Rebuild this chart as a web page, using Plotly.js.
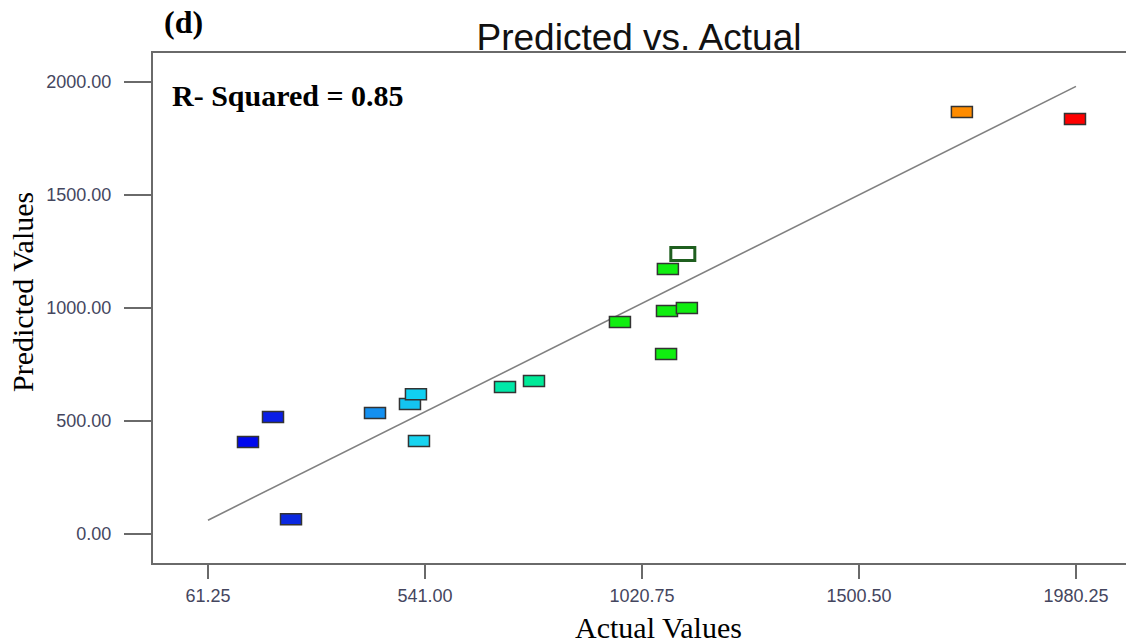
<!DOCTYPE html>
<html>
<head>
<meta charset="utf-8">
<script src="https://cdn.plot.ly/plotly-3.0.1.min.js"></script>
<style>
html,body{margin:0;padding:0;background:#fff;overflow:hidden;}
#chart{width:1126px;height:643px;}
</style>
</head>
<body>
<div id="chart"></div>
<script>
// Data
const actualValues = [149.7, 205, 244.8, 430.5, 507.8, 521, 527.7, 717.9, 782, 972, 1074, 1076, 1078, 1120, 1111, 1728, 1978];
const predictedValues = [407, 518, 66, 535, 575, 619, 412, 650, 677, 938, 796, 987, 1173, 1000, 1239, 1867, 1836];
const pointColors = ["#0008ee", "#0a1ee6", "#0a28e0", "#1490f0", "#14c4f0", "#10d0f2", "#18d4f0",
                     "#00e8a8", "#00ea98", "#10ee10", "#10ee10", "#10ee10", "#10ee10", "#10ee10",
                     "#ffffff", "#ff8c00", "#ff0000"];
const pointBorders = ["#333","#333","#333","#333","#333","#333","#333","#333","#333","#333","#333","#333","#333","#333","#1f5f1f","#333","#333"];
const fitLineX = [61.25, 1980.25];
const fitLineY = [61.25, 1980.25];
const xTickVals = [61.25, 541.00, 1020.75, 1500.50, 1980.25];
const yTickVals = [0, 500, 1000, 1500, 2000];
const rSquared = 0.85;

const shapes = actualValues.map((x, i) => {
  const hl = pointBorders[i] !== "#333";
  const hw = hl ? 12 : 10.5, hh = hl ? 6.5 : 5.5;
  return {
    type: "rect", xref: "x", yref: "y",
    xsizemode: "pixel", ysizemode: "pixel",
    xanchor: x, yanchor: predictedValues[i],
    x0: -hw, x1: hw, y0: -hh, y1: hh,
    fillcolor: pointColors[i],
    line: {color: pointBorders[i], width: hl ? 3 : 1.5},
    layer: "above"
  };
});

const traces = [
  {x: fitLineX, y: fitLineY, mode: "lines", type: "scatter",
   line: {color: "#808080", width: 1.6}, hoverinfo: "skip", showlegend: false},
  {x: actualValues, y: predictedValues, mode: "markers", type: "scatter",
   marker: {size: 12, color: "rgba(0,0,0,0)"}, showlegend: false}
];

const serif = "Liberation Serif, Times New Roman, serif";
const sans = "Liberation Sans, Arial, sans-serif";
const tickFont = {family: sans, size: 18, color: "#44465e"};

const layout = {
  width: 1126, height: 643,
  margin: {l: 153, r: 0, t: 53, b: 80},
  paper_bgcolor: "#fff", plot_bgcolor: "#fff",
  showlegend: false,
  title: {text: "Predicted vs. Actual", font: {family: sans, size: 37, color: "#111"},
          x: 639/1126, xanchor: "center", xref: "container",
          y: 1 - 37/643, yanchor: "middle", yref: "container"},
  xaxis: {range: [-60.3, 2090.8], tickvals: xTickVals, tickformat: ".2f",
          showgrid: false, zeroline: false, showline: true, linecolor: "#6a6a6a", linewidth: 2,
          mirror: true, ticks: "outside", ticklen: 14, tickwidth: 2, tickcolor: "#6a6a6a",
          ticklabelstandoff: 1, tickfont: tickFont},
  yaxis: {range: [-128, 2128], tickvals: yTickVals, tickformat: ".2f",
          showgrid: false, zeroline: false, showline: true, linecolor: "#6a6a6a", linewidth: 2,
          ticks: "outside", ticklen: 27, tickwidth: 2, tickcolor: "#6a6a6a",
          ticklabelstandoff: 9, tickfont: tickFont},
  shapes: shapes,
  annotations: [
    {text: "<b>(d)</b>", xref: "paper", yref: "paper", x: (183-153)/973, y: (563-22)/510,
     xanchor: "center", yanchor: "middle", showarrow: false,
     font: {family: serif, size: 32, color: "#000"}},
    {text: "<b>R- Squared = " + rSquared.toFixed(2) + "</b>", xref: "paper", yref: "paper",
     x: (170-153)/973, y: (563-95)/510, xanchor: "left", yanchor: "middle", showarrow: false,
     font: {family: serif, size: 30, color: "#000"}},
    {text: "Predicted Values", xref: "paper", yref: "paper", x: (22-153)/973, y: (563-292)/510,
     xanchor: "center", yanchor: "middle", textangle: -90, showarrow: false,
     font: {family: serif, size: 30, color: "#000"}},
    {text: "Actual Values", xref: "paper", yref: "paper", x: (658-153)/973, y: (563-627)/510,
     xanchor: "center", yanchor: "middle", showarrow: false,
     font: {family: serif, size: 30, color: "#000"}}
  ]
};

Plotly.newPlot("chart", traces, layout, {displayModeBar: false, staticPlot: true});
</script>
</body>
</html>
